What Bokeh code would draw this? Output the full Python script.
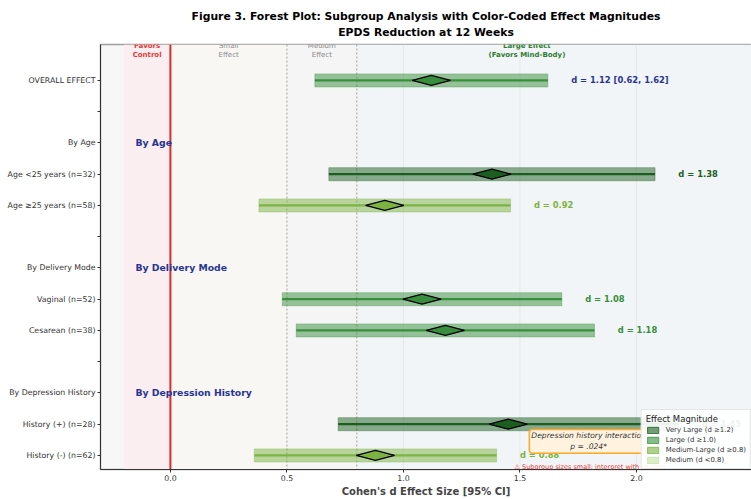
from bokeh.plotting import figure
from bokeh.models import (ColumnDataSource, Range1d, FixedTicker, PrintfTickFormatter,
                          BoxAnnotation, Span, Label, Legend, LegendItem, Title)
from bokeh.core.properties import value
from bokeh.embed import file_html
from bokeh.resources import INLINE

# ---------------- data ----------------
row_labels = ["OVERALL EFFECT", "", "By Age", "Age <25 years (n=32)", "Age \u226525 years (n=58)", "",
              "By Delivery Mode", "Vaginal (n=52)", "Cesarean (n=38)", "",
              "By Depression History", "History (+) (n=28)", "History (-) (n=62)"]
section_rows = [2, 6, 10]
section_names = ["By Age", "By Delivery Mode", "By Depression History"]

study_rows = [0, 3, 4, 7, 8, 11, 12]
effect_d = [1.12, 1.38, 0.92, 1.08, 1.18, 1.45, 0.88]
ci_low = [0.62, 0.68, 0.38, 0.48, 0.54, 0.72, 0.36]
ci_high = [1.62, 2.08, 1.46, 1.68, 1.82, 2.18, 1.40]

mag_names = ["Very Large (d \u22651.2)", "Large (d \u22651.0)", "Medium-Large (d \u22650.8)", "Medium (d <0.8)"]
mag_thresholds = [1.2, 1.0, 0.8, float("-inf")]
mag_colors = ["#1b5e20", "#388e3c", "#7cb342", "#c5e1a5"]

x_ticks = [0.0, 0.5, 1.0, 1.5, 2.0, 2.5]

FONT = "DejaVu Sans"
NAVY = "#283593"


def mag_color(d):
    for t, c in zip(mag_thresholds, mag_colors):
        if d >= t:
            return c
    return mag_colors[-1]


colors = [mag_color(d) for d in effect_d]
dw, dh = 0.082, 0.16
src = ColumnDataSource(dict(
    row=study_rows, d=effect_d, lo=ci_low, hi=ci_high, color=colors,
    dx=[[d - dw, d, d + dw, d] for d in effect_d],
    dy=[[r, r - dh, r, r + dh] for r in study_rows],
    lx=[h + 0.1 for h in ci_high],
    ltxt=["d = %.2f [%.2f, %.2f]" % (effect_d[0], ci_low[0], ci_high[0])] +
         ["d = %.2f" % d for d in effect_d[1:]],
    lcolor=[NAVY] + colors[1:],
))

# ---------------- figure ----------------
p = figure(width=751, height=499, output_backend="svg", toolbar_location=None,
           x_range=Range1d(-0.3, 2.494), y_range=Range1d(12.45, -1.15),
           min_border_left=100, min_border_right=0, min_border_top=44, min_border_bottom=10)
p.background_fill_color = "#f7f7f7"
p.border_fill_color = "white"
p.outline_line_color = "#9e9e9e"
p.outline_line_width = 1.5
p.xgrid.visible = False
p.ygrid.visible = False

# title: two centred lines (second added first = closest to the plot)
title_style = dict(align="center", text_font=FONT, text_font_style="bold", text_font_size="10.8px",
                   text_color="black")
p.add_layout(Title(text="EPDS Reduction at 12 Weeks", vertical_align="top", standoff=7, **title_style), "above")
p.add_layout(Title(text="Figure 3. Forest Plot: Subgroup Analysis with Color-Coded Effect Magnitudes",
                   vertical_align="bottom", standoff=0, **title_style), "above")

# background zones
for l, r, c in [(-0.2, 0.0, "#fbeef0"), (0.0, 0.5, "#f8f7f4"), (0.5, 0.8, "#f4f5f4"), (0.8, 3.0, "#f2f5f7")]:
    p.add_layout(BoxAnnotation(left=l, right=r, fill_color=c, fill_alpha=1, line_color=None, level="underlay"))
for t in x_ticks[2:]:
    p.add_layout(Span(location=t, dimension="height", line_color="#e3e6e8", line_width=0.8, level="underlay"))
for t in [0.5, 0.8]:
    p.add_layout(Span(location=t, dimension="height", line_color="#a0a0a0", line_width=1,
                      line_dash="2 2", level="underlay"))
p.add_layout(Span(location=0.0, dimension="height", line_color="#d32f2f", line_width=2, level="underlay"))

# zone labels
zl = dict(text_font=value(FONT), text_font_size="7px", text_align="center", text_baseline="top",
          y=-1.23, text_line_height=1.1)
p.text(x=[-0.1], text=["Favors\nControl"], text_color="#e53935", text_font_style="bold", **zl)
p.text(x=[0.25], text=["Small\nEffect"], text_color="#8a8a8a", **zl)
p.text(x=[0.65], text=["Medium\nEffect"], text_color="#8a8a8a", **zl)
p.text(x=[1.53], text=["Large Effect\n(Favors Mind-Body)"], text_color="#2e7d32", text_font_style="bold", **zl)

# section headers
p.text(x=[-0.15] * 3, y=section_rows, text=section_names, text_color=NAVY, text_font=value(FONT),
       text_font_style="bold", text_font_size="9.3px", text_baseline="middle")

# bars, lines, diamonds
p.hbar(y="row", left="lo", right="hi", height=0.42, fill_color="color", fill_alpha=0.5,
       line_color="color", line_alpha=0.35, line_width=1, source=src)
p.segment(x0="lo", y0="row", x1="hi", y1="row", line_color="color", line_width=2.2, source=src)
p.patches(xs="dx", ys="dy", fill_color="color", line_color="black", line_width=1.2, source=src)
p.text(x="lx", y="row", text="ltxt", text_color="lcolor", text_font=value(FONT), text_font_style="bold",
       text_font_size="8.4px", text_baseline="middle", source=src)

# annotations
p.add_layout(Label(x=1.795, y=11.55, text="Depression history interaction\np = .024*", text_align="center",
                   text_baseline="middle", text_font=FONT, text_font_style="italic",
                   text_font_size="7.6px", text_color="#333333",
                   background_fill_color="#fff3e0", background_fill_alpha=1,
                   border_line_color="#ffa726", border_line_width=1.5, padding=2, border_radius=3))
p.add_layout(Label(x=1.80, y=12.36, text="\u26a0 Subgroup sizes small; interpret with caution",
                   text_align="center", text_baseline="middle", text_font=FONT,
                   text_font_size="6.5px", text_color="#e53935"))

# legend (swatches only)
items = []
nan = float("nan")
for name, c in zip(mag_names, mag_colors):
    r = p.quad(left=[nan], right=[nan], top=[nan], bottom=[nan], fill_color=c, fill_alpha=0.6,
               line_color=c, line_alpha=0.8)
    items.append(LegendItem(label=name, renderers=[r]))
legend = Legend(items=items, location="bottom_right", title="Effect Magnitude",
                title_text_font=FONT, title_text_font_size="8.5px", title_text_color="#222222",
                title_text_font_style="normal",
                label_text_font=FONT, label_text_font_size="6.9px", label_text_color="#333333",
                glyph_height=8, glyph_width=14, label_height=8, label_standoff=6, spacing=2,
                padding=4, margin=0, title_standoff=2,
                background_fill_color="white", background_fill_alpha=0.92,
                border_line_color="#cccccc")
p.add_layout(legend)

# axes
p.yaxis.ticker = FixedTicker(ticks=list(range(len(row_labels))))
p.yaxis.major_label_overrides = {i: lab for i, lab in enumerate(row_labels)}
p.xaxis.ticker = FixedTicker(ticks=x_ticks)
p.xaxis.formatter = PrintfTickFormatter(format="%.1f")
for ax in (p.xaxis, p.yaxis):
    ax.major_label_text_font = FONT
    ax.major_label_text_color = "#333333"
    ax.major_label_text_font_size = "7.8px"
    ax.axis_line_color = "#333333"
    ax.major_tick_line_color = "#333333"
    ax.major_tick_out = 3
    ax.major_tick_in = 0
    ax.minor_tick_line_color = None
    ax.major_label_standoff = 2
p.xaxis.axis_label = "Cohen's d Effect Size [95% CI]"
p.xaxis.axis_label_text_font = FONT
p.xaxis.axis_label_text_font_style = "bold"
p.xaxis.axis_label_text_font_size = "10px"
p.xaxis.axis_label_standoff = 2

open("out.html", "w").write(file_html(p, INLINE))
